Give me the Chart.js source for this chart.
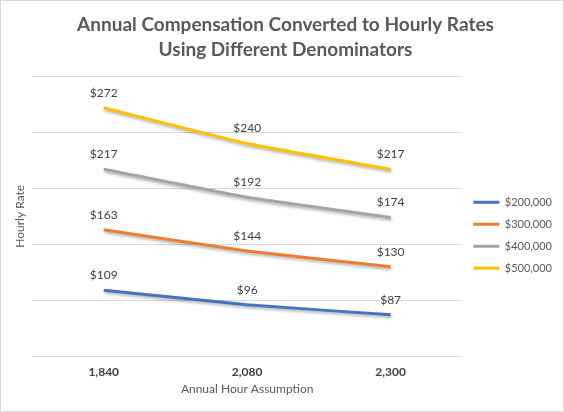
<!DOCTYPE html>
<html>
<head>
<meta charset="utf-8">
<script src="https://cdn.jsdelivr.net/npm/chart.js@4"></script>
<style>
  html, body { margin: 0; padding: 0; background: #fff; }
  #wrap { width: 562px; height: 410px; border: 1px solid #d9d9d9; }
</style>
</head>
<body>
<div id="wrap"><canvas id="grafik" width="562" height="410"></canvas></div>
<script>
const hours = ['1,840', '2,080', '2,300'];
const comp200 = [109, 96, 87];
const comp300 = [163, 144, 130];
const comp400 = [217, 192, 174];
const comp500 = [272, 240, 217];
const seriesNames = ['$200,000', '$300,000', '$400,000', '$500,000'];
const colors = ['#4472C4', '#ED7D31', '#A5A5A5', '#FFC000'];

const labelPlugin = {
    id: 'valueLabels',
    beforeDatasetDraw(chart) {
        chart.ctx.save();
        chart.ctx.shadowColor = 'rgba(0,0,0,0.3)';
        chart.ctx.shadowBlur = 3;
        chart.ctx.shadowOffsetX = 1;
        chart.ctx.shadowOffsetY = 2;
    },
    afterDatasetDraw(chart) {
        chart.ctx.restore();
    },
    afterDatasetsDraw(chart) {
        const ctx = chart.ctx;
        ctx.save();
        ctx.font = '12px Lato';
        ctx.fillStyle = '#404040';
        ctx.textAlign = 'center';
        ctx.textBaseline = 'bottom';
        chart.data.datasets.forEach(function(ds, i) {
            chart.getDatasetMeta(i).data.forEach(function(pt, j) {
                ctx.fillText('$' + ds.data[j], pt.x, pt.y - 9);
            });
        });
        ctx.restore();
    }
};

const data = {
    labels: hours,
    datasets: [comp200, comp300, comp400, comp500].map(function(vals, i) {
        return {
            label: seriesNames[i],
            data: vals,
            borderColor: colors[i],
            backgroundColor: colors[i],
            borderWidth: 3,
            pointRadius: 0,
            tension: 0.15
        };
    })
};

new Chart(document.getElementById('grafik'), {
    type: 'line',
    data: data,
    plugins: [labelPlugin],
    options: {
        responsive: false,
        animation: false,
        layout: { padding: { left: 8, right: 1, top: 10, bottom: 14 } },
        plugins: {
            title: {
                display: true,
                text: ['Annual Compensation Converted to Hourly Rates', 'Using Different Denominators'],
                color: '#595959',
                font: { family: 'Lato', size: 19, weight: 'bold', lineHeight: 1.3 },
                padding: { top: 2, bottom: 14 }
            },
            legend: {
                position: 'right',
                title: { display: true, text: '', padding: { top: 48, bottom: 0 }, font: { size: 12 } },
                labels: {
                    boxWidth: 26,
                    boxHeight: 3,
                    color: '#595959',
                    font: { family: 'Lato', size: 11 },
                    padding: 11,
                    generateLabels(chart) {
                        return Chart.defaults.plugins.legend.labels.generateLabels(chart).map(function(item) {
                            item.lineWidth = 0;
                            return item;
                        });
                    }
                }
            },
            tooltip: { enabled: false }
        },
        scales: {
            x: {
                offset: true,
                grid: { display: false },
                border: { display: false },
                ticks: { color: '#404040', font: { family: 'Lato', size: 12, weight: 'bold' }, padding: 1 },
                title: { display: true, text: 'Annual Hour Assumption', color: '#595959', font: { family: 'Lato', size: 12 }, padding: 1 }
            },
            y: {
                min: 50,
                max: 300,
                ticks: { display: false, stepSize: 50 },
                grid: { color: '#d9d9d9', drawTicks: false },
                border: { display: false },
                title: { display: true, text: 'Hourly Rate', color: '#595959', font: { family: 'Lato', size: 12 } },
                afterFit(scale) { scale.width = 23; }
            }
        }
    }
});
</script>
</body>
</html>
